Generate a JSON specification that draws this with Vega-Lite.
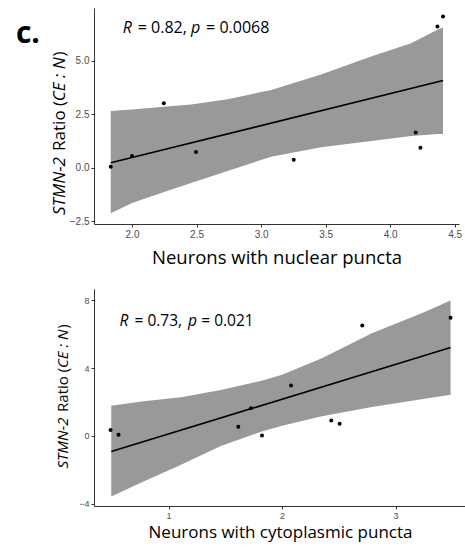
{
  "$schema": "https://vega.github.io/schema/vega-lite/v6.json",
  "padding": {"left": 15, "top": 8, "right": 0, "bottom": 3},
  "spacing": 22,
  "config": {
    "view": {"stroke": null},
    "axis": {
      "grid": false,
      "domainColor": "#333333",
      "domainWidth": 1,
      "tickColor": "#333333",
      "tickSize": 3,
      "labelFont": "Liberation Sans",
      "labelFontSize": 10,
      "labelColor": "#4d4d4d",
      "labelPadding": 2,
      "titleFont": "Open Sans",
      "titleFontSize": 16,
      "titleFontWeight": "normal",
      "titleColor": "#000000"
    },
    "text": {"font": "Open Sans"}
  },
  "datasets": {
    "top_pts": [
      {"x": 1.835, "y": 0.05},
      {"x": 2.0, "y": 0.55},
      {"x": 2.246, "y": 3.01},
      {"x": 2.496, "y": 0.73},
      {"x": 3.253, "y": 0.37},
      {"x": 4.199, "y": 1.65},
      {"x": 4.235, "y": 0.93},
      {"x": 4.367, "y": 6.59},
      {"x": 4.41, "y": 7.06}
    ],
    "top_fit": [
      {"x": 1.835, "y": 0.23},
      {"x": 4.41, "y": 4.07}
    ],
    "top_band": [
      {"x": 1.835, "y": -2.13, "y2": 2.65},
      {"x": 2.0, "y": -1.65, "y2": 2.72},
      {"x": 2.225, "y": -1.18, "y2": 2.83},
      {"x": 2.457, "y": -0.72, "y2": 2.95},
      {"x": 2.74, "y": -0.15, "y2": 3.2},
      {"x": 3.078, "y": 0.51, "y2": 3.63},
      {"x": 3.465, "y": 0.95, "y2": 4.35},
      {"x": 3.853, "y": 1.25, "y2": 5.19},
      {"x": 4.163, "y": 1.48, "y2": 5.81},
      {"x": 4.37, "y": 1.57, "y2": 6.45},
      {"x": 4.41, "y": 1.58, "y2": 6.55}
    ],
    "top_txt": [
      {"x": 1.928, "y": 6.31, "text": "R", "style": "italic"},
      {"x": 2.044, "y": 6.31, "text": "= 0.82,", "style": "normal"},
      {"x": 2.457, "y": 6.31, "text": "p", "style": "italic"},
      {"x": 2.574, "y": 6.31, "text": "= 0.0068", "style": "normal"}
    ],
    "top_ytitle": [
      {"x": 1.481, "y": -2.21, "text": "STMN-2", "style": "italic"},
      {"x": 1.481, "y": 0.785, "text": "Ratio (", "style": "normal"},
      {"x": 1.481, "y": 3.107, "text": "CE : N", "style": "italic"},
      {"x": 1.481, "y": 5.19, "text": ")", "style": "normal"}
    ],
    "top_lbl": [
      {"x": 1.1, "y": 5.83, "text": "c."}
    ],
    "bot_pts": [
      {"x": 0.489, "y": 0.35},
      {"x": 0.559, "y": 0.06},
      {"x": 1.614, "y": 0.53},
      {"x": 1.726, "y": 1.63},
      {"x": 1.823, "y": 0.02},
      {"x": 2.079, "y": 2.97},
      {"x": 2.433, "y": 0.9},
      {"x": 2.507, "y": 0.71},
      {"x": 2.706, "y": 6.51},
      {"x": 3.484, "y": 6.96}
    ],
    "bot_fit": [
      {"x": 0.495, "y": -0.93},
      {"x": 3.484, "y": 5.21}
    ],
    "bot_band": [
      {"x": 0.495, "y": -3.58, "y2": 1.77},
      {"x": 0.76, "y": -2.75, "y2": 2.02},
      {"x": 1.11, "y": -1.7, "y2": 2.28},
      {"x": 1.46, "y": -0.6, "y2": 2.7},
      {"x": 1.82, "y": 0.25, "y2": 3.25},
      {"x": 2.0, "y": 0.6, "y2": 3.6},
      {"x": 2.35, "y": 1.15, "y2": 4.58},
      {"x": 2.79, "y": 1.7, "y2": 6.05},
      {"x": 3.23, "y": 2.15, "y2": 7.23},
      {"x": 3.484, "y": 2.42, "y2": 7.98}
    ],
    "bot_txt": [
      {"x": 0.568, "y": 6.49, "text": "R", "style": "italic"},
      {"x": 0.7, "y": 6.49, "text": "= 0.73,", "style": "normal"},
      {"x": 1.171, "y": 6.49, "text": "p", "style": "italic"},
      {"x": 1.288, "y": 6.49, "text": "= 0.021", "style": "normal"}
    ],
    "bot_ytitle": [
      {"x": 0.116, "y": -1.93, "text": "STMN-2", "style": "italic"},
      {"x": 0.116, "y": 1.41, "text": "Ratio (", "style": "normal"},
      {"x": 0.116, "y": 4.0, "text": "CE : N", "style": "italic"},
      {"x": 0.116, "y": 6.32, "text": ")", "style": "normal"}
    ]
  },
  "vconcat": [
    {
      "width": 365,
      "height": 216,
      "encoding": {
        "x": {
          "field": "x", "type": "quantitative",
          "scale": {"domain": [1.705, 4.534], "nice": false, "zero": false},
          "axis": {"values": [2, 2.5, 3, 3.5, 4, 4.5], "format": ".1f", "titlePadding": 9, "titleFontSize": 18.5},
          "title": "Neurons with nuclear puncta"
        },
        "y": {
          "field": "y", "type": "quantitative",
          "scale": {"domain": [-2.63, 7.46], "nice": false, "zero": false},
          "axis": {"values": [-2.5, 0, 2.5, 5], "format": ".1f"},
          "title": null
        }
      },
      "layer": [
        {
          "data": {"name": "top_band"},
          "mark": {"type": "area", "color": "#999999", "opacity": 1},
          "encoding": {"y2": {"field": "y2"}}
        },
        {
          "data": {"name": "top_fit"},
          "mark": {"type": "line", "color": "#000000", "strokeWidth": 1.6},
          "encoding": {}
        },
        {
          "data": {"name": "top_pts"},
          "mark": {"type": "circle", "color": "#000000", "size": 16, "opacity": 1},
          "encoding": {}
        },
        {
          "data": {"name": "top_txt"},
          "transform": [{"filter": "datum.style === 'italic'"}],
          "mark": {"type": "text", "align": "left", "baseline": "alphabetic", "fontSize": 16, "fontStyle": "italic", "color": "#000000"},
          "encoding": {"text": {"field": "text"}}
        },
        {
          "data": {"name": "top_txt"},
          "transform": [{"filter": "datum.style === 'normal'"}],
          "mark": {"type": "text", "align": "left", "baseline": "alphabetic", "fontSize": 16, "color": "#000000"},
          "encoding": {"text": {"field": "text"}}
        },
        {
          "data": {"name": "top_ytitle"},
          "transform": [{"filter": "datum.style === 'italic'"}],
          "mark": {"type": "text", "align": "left", "baseline": "alphabetic", "angle": 270, "fontSize": 17, "fontStyle": "italic", "color": "#000000"},
          "encoding": {"text": {"field": "text"}}
        },
        {
          "data": {"name": "top_ytitle"},
          "transform": [{"filter": "datum.style === 'normal'"}],
          "mark": {"type": "text", "align": "left", "baseline": "alphabetic", "angle": 270, "fontSize": 17, "color": "#000000"},
          "encoding": {"text": {"field": "text"}}
        },
        {
          "data": {"name": "top_lbl"},
          "mark": {"type": "text", "align": "left", "baseline": "alphabetic", "fontSize": 30, "fontWeight": "bold", "color": "#000000"},
          "encoding": {"text": {"field": "text"}}
        }
      ]
    },
    {
      "width": 372,
      "height": 217,
      "encoding": {
        "x": {
          "field": "x", "type": "quantitative",
          "scale": {"domain": [0.343, 3.62], "nice": false, "zero": false},
          "axis": {"values": [1, 2, 3], "format": "d", "titlePadding": 4, "titleFontSize": 17, "labelFontSize": 9},
          "title": "Neurons with cytoplasmic puncta"
        },
        "y": {
          "field": "y", "type": "quantitative",
          "scale": {"domain": [-4.14, 8.66], "nice": false, "zero": false},
          "axis": {"values": [-4, 0, 4, 8], "format": "d", "labelFontSize": 9},
          "title": null
        }
      },
      "layer": [
        {
          "data": {"name": "bot_band"},
          "mark": {"type": "area", "color": "#999999", "opacity": 1},
          "encoding": {"y2": {"field": "y2"}}
        },
        {
          "data": {"name": "bot_fit"},
          "mark": {"type": "line", "color": "#000000", "strokeWidth": 1.6},
          "encoding": {}
        },
        {
          "data": {"name": "bot_pts"},
          "mark": {"type": "circle", "color": "#000000", "size": 16, "opacity": 1},
          "encoding": {}
        },
        {
          "data": {"name": "bot_txt"},
          "transform": [{"filter": "datum.style === 'italic'"}],
          "mark": {"type": "text", "align": "left", "baseline": "alphabetic", "fontSize": 15.5, "fontStyle": "italic", "color": "#000000"},
          "encoding": {"text": {"field": "text"}}
        },
        {
          "data": {"name": "bot_txt"},
          "transform": [{"filter": "datum.style === 'normal'"}],
          "mark": {"type": "text", "align": "left", "baseline": "alphabetic", "fontSize": 15.5, "color": "#000000"},
          "encoding": {"text": {"field": "text"}}
        },
        {
          "data": {"name": "bot_ytitle"},
          "transform": [{"filter": "datum.style === 'italic'"}],
          "mark": {"type": "text", "align": "left", "baseline": "alphabetic", "angle": 270, "fontSize": 15, "fontStyle": "italic", "color": "#000000"},
          "encoding": {"text": {"field": "text"}}
        },
        {
          "data": {"name": "bot_ytitle"},
          "transform": [{"filter": "datum.style === 'normal'"}],
          "mark": {"type": "text", "align": "left", "baseline": "alphabetic", "angle": 270, "fontSize": 15, "color": "#000000"},
          "encoding": {"text": {"field": "text"}}
        }
      ]
    }
  ]
}
